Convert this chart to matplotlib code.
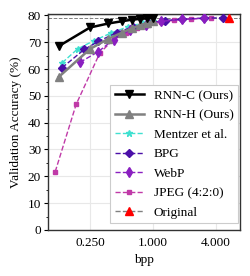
import matplotlib
matplotlib.use("Agg")
import matplotlib.pyplot as plt
from matplotlib.ticker import FixedLocator, FormatStrFormatter, MultipleLocator

plt.rcParams["font.family"] = ["Liberation Serif", "DejaVu Serif"]
plt.rcParams["font.size"] = 9.5

# bits per pixel / validation accuracy (%)
rnn_bpp = [0.125, 0.25, 0.375, 0.5, 0.625, 0.75, 0.875, 1.0]
rnn_c_acc = [68.5, 75.5, 77.0, 77.8, 78.4, 78.7, 78.9, 79.0]
rnn_h_acc = [57.0, 67.5, 71.3, 73.5, 75.2, 76.3, 77.2, 77.8]

mentzer_bpp = [0.135, 0.19, 0.27, 0.4, 0.58, 0.8, 1.0]
mentzer_acc = [62.3, 67.5, 70.5, 73.5, 75.8, 77.2, 78.0]

bpg_bpp = [0.135, 0.22, 0.3, 0.45, 0.65, 0.9, 1.3, 1.9, 3.1, 4.66]
bpg_acc = [60.5, 67.3, 70.3, 73.6, 75.8, 77.2, 78.1, 78.6, 79.0, 79.1]

webp_bpp = [0.2, 0.3, 0.42, 0.6, 0.85, 1.2, 1.9, 3.1]
webp_acc = [62.5, 66.5, 71.0, 74.5, 76.5, 77.8, 78.5, 79.0]

jpeg_bpp = [0.116, 0.184, 0.31, 0.42, 0.55, 0.7, 0.9, 1.2, 1.6, 2.3, 3.6]
jpeg_acc = [21.7, 46.8, 66.0, 71.0, 73.5, 75.3, 76.5, 77.5, 78.2, 78.7, 79.0]

orig_bpp = [5.33]
orig_acc = [79.1]

fig = plt.figure(figsize=(2.5, 2.76), dpi=100)
ax = fig.add_axes([0.192, 0.167, 0.768, 0.782])

ax.axhline(orig_acc[0], color="gray", lw=0.7, ls="--", zorder=1)

ax.plot(rnn_bpp, rnn_c_acc, color="black", marker="v", ms=6, lw=1.8, label="RNN-C (Ours)", zorder=5)
ax.plot(rnn_bpp, rnn_h_acc, color="gray", marker="^", ms=6, lw=1.8, label="RNN-H (Ours)", zorder=4)
ax.plot(mentzer_bpp, mentzer_acc, color="turquoise", marker="*", ms=5, lw=1.0, ls="--", label="Mentzer et al.", zorder=3)
ax.plot(bpg_bpp, bpg_acc, color="#4b0fa8", marker="D", ms=4.5, lw=1.0, ls="--", label="BPG", zorder=3)
ax.plot(webp_bpp, webp_acc, color="#8a1fc0", marker="d", ms=5, lw=1.0, ls="--", label="WebP", zorder=3)
ax.plot(jpeg_bpp, jpeg_acc, color="#c03aa8", marker="s", ms=3.5, lw=1.0, ls="--", label="JPEG (4:2:0)", zorder=2)
ax.plot(orig_bpp, orig_acc, color="gray", marker="^", mfc="red", mec="red", ms=6, lw=1.0, ls="--", label="Original", zorder=6)

ax.set_xscale("log", base=2)
ax.set_xlim(0.099, 6.8)
ax.set_ylim(0, 80.5)
ax.xaxis.set_major_locator(FixedLocator([0.25, 1.0, 4.0]))
ax.xaxis.set_major_formatter(FormatStrFormatter("%.3f"))
ax.xaxis.set_minor_locator(FixedLocator([]))
ax.set_yticks(range(0, 81, 10))
ax.yaxis.set_minor_locator(MultipleLocator(5))
ax.tick_params(axis="x", length=0, pad=5)
ax.tick_params(axis="y", which="major", length=3, pad=2)
ax.tick_params(axis="y", which="minor", length=1.5)
ax.grid(True, color="#e8e8e8", lw=0.8)
ax.set_axisbelow(True)
for s in ax.spines.values():
    s.set_color("#333333")
    s.set_linewidth(1.0)

ax.set_xlabel("bpp")
ax.set_ylabel("Validation Accuracy (%)")

leg = ax.legend(loc="lower right", bbox_to_anchor=(0.99, 0.03), borderaxespad=0.0,
                labelspacing=0.55, handlelength=2.2, handletextpad=0.75, borderpad=0.35,
                fancybox=False, framealpha=1.0, edgecolor="#cccccc")
leg.get_frame().set_linewidth(0.8)

fig.savefig("out.png", dpi=100)
